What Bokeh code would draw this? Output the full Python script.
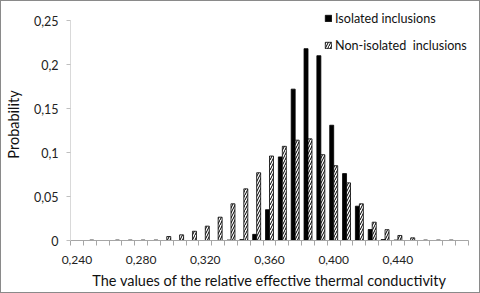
from bokeh.plotting import figure
from bokeh.models import FixedTicker, Legend, LegendItem, ColumnDataSource, Range1d, InlineStyleSheet
from bokeh.transform import dodge
from bokeh.embed import file_html
from bokeh.resources import INLINE

# ---- data ----
categories = ["0,240", "0,248", "0,256", "0,264", "0,272", "0,280", "0,288", "0,296",
              "0,304", "0,312", "0,320", "0,328", "0,336", "0,344", "0,352", "0,360",
              "0,368", "0,376", "0,384", "0,392", "0,400", "0,408", "0,416", "0,424",
              "0,432", "0,440", "0,448", "0,456", "0,464", "0,472", "0,480"]
shown_labels = ["0,240", "0,280", "0,320", "0,360", "0,400", "0,440"]

isolated = [0, 0, 0, 0, 0, 0, 0, 0, 0, 0,
            0, 0, 0.0005, 0.001, 0.007, 0.035, 0.095, 0.172, 0.218, 0.210,
            0.131, 0.076, 0.039, 0.0125, 0.001, 0.0005, 0, 0, 0, 0, 0]
non_isolated = [0, 0.0005, 0, 0.0005, 0.0005, 0.0005, 0.0005, 0.0045, 0.0064, 0.0105,
                0.0163, 0.0265, 0.0417, 0.0587, 0.077, 0.096, 0.107, 0.114, 0.1155, 0.0975,
                0.085, 0.0655, 0.0417, 0.0208, 0.0123, 0.0057, 0.003, 0.0005, 0.0005, 0.0005, 0]

y_ticks = [0, 0.05, 0.1, 0.15, 0.2, 0.25]
y_tick_labels = ["0", "0,05", "0,1", "0,15", "0,2", "0,25"]

series_names = ["Isolated inclusions", "Non-isolated  inclusions"]
x_title = "The values of the relative effective thermal conductivity"
y_title = "Probability"

# ---- build ----
idx = list(range(len(categories)))
src = ColumnDataSource(dict(idx=idx, iso=isolated, non=non_isolated))

FONT = "Lato"
W, H = 480, 293
TOP_PAD = 12          # px of headroom inside the frame above the 0.25 tick
PLOT_H = 220          # px from 0 to 0.25
TOP_BORDER = 8
y_max = y_ticks[-1]
y_end = y_max * (PLOT_H + TOP_PAD) / PLOT_H

p = figure(width=W, height=H, output_backend="svg", toolbar_location=None,
           x_range=Range1d(-0.5, len(categories) - 0.5), y_range=Range1d(0, y_end),
           min_border_left=70, min_border_right=12, min_border_top=TOP_BORDER,
           min_border_bottom=H - PLOT_H - TOP_PAD - TOP_BORDER)
p.outline_line_color = None
p.xgrid.visible = False
p.ygrid.visible = False
p.border_fill_alpha = 0
p.stylesheets = [InlineStyleSheet(css=":host { box-shadow: inset 0 0 0 1px #8a8a8a; }")]

r1 = p.vbar(x=dodge("idx", -0.155, range=p.x_range), top="iso", width=0.31, bottom=0,
            source=src, fill_color="black", line_color="black", line_width=0.8)
r2 = p.vbar(x=dodge("idx", 0.155, range=p.x_range), top="non", width=0.31, bottom=0,
            source=src, fill_color="white", line_color="black", line_width=0.8,
            hatch_pattern="/", hatch_color="black", hatch_scale=5, hatch_weight=1)

# x axis
label_pos = [categories.index(l) for l in shown_labels]
p.xaxis.ticker = FixedTicker(ticks=label_pos,
                             minor_ticks=[i - 0.5 for i in range(len(categories) + 1)])
p.xaxis.major_label_overrides = {categories.index(l): l for l in shown_labels}
p.xaxis.major_tick_out = 0
p.xaxis.major_tick_in = 0
p.xaxis.minor_tick_out = 5
p.xaxis.minor_tick_in = 0
p.xaxis.minor_tick_line_color = "#a6a6a6"
p.xaxis.axis_line_color = "#a6a6a6"
p.xaxis.major_label_standoff = 10
p.xaxis.major_label_text_font = FONT
p.xaxis.major_label_text_font_size = "12px"
p.xaxis.major_label_text_color = "#222222"
p.xaxis.axis_label = x_title
p.xaxis.axis_label_text_font = FONT
p.xaxis.axis_label_text_font_size = "14.5px"
p.xaxis.axis_label_text_font_style = "normal"
p.xaxis.axis_label_text_color = "#111111"
p.xaxis.axis_label_standoff = 5

# y axis
p.yaxis.ticker = FixedTicker(ticks=y_ticks, minor_ticks=[])
p.yaxis.bounds = (y_ticks[0], y_ticks[-1])
p.yaxis.major_label_overrides = dict(zip(y_ticks, y_tick_labels))
p.yaxis.major_tick_out = 4
p.yaxis.major_tick_in = 0
p.yaxis.major_tick_line_color = "#bfbfbf"
p.yaxis.axis_line_color = "#d9d9d9"
p.yaxis.major_label_standoff = 8
p.yaxis.major_label_text_font = FONT
p.yaxis.major_label_text_font_size = "12.5px"
p.yaxis.major_label_text_color = "#222222"
p.yaxis.axis_label = y_title
p.yaxis.axis_label_text_font = FONT
p.yaxis.axis_label_text_font_size = "14.5px"
p.yaxis.axis_label_text_font_style = "normal"
p.yaxis.axis_label_text_color = "#111111"
p.yaxis.axis_label_standoff = 9

legend = Legend(items=[LegendItem(label=series_names[0], renderers=[r1]),
                       LegendItem(label=series_names[1], renderers=[r2])],
                location=(254, 187), orientation="vertical",
                glyph_width=8, glyph_height=8, label_height=16, label_standoff=3,
                spacing=11, padding=0, margin=0,
                border_line_color=None, background_fill_alpha=0,
                label_text_font=FONT, label_text_font_size="12.6px",
                label_text_color="#111111")
p.add_layout(legend)

open("out.html", "w").write(file_html(p, INLINE))
